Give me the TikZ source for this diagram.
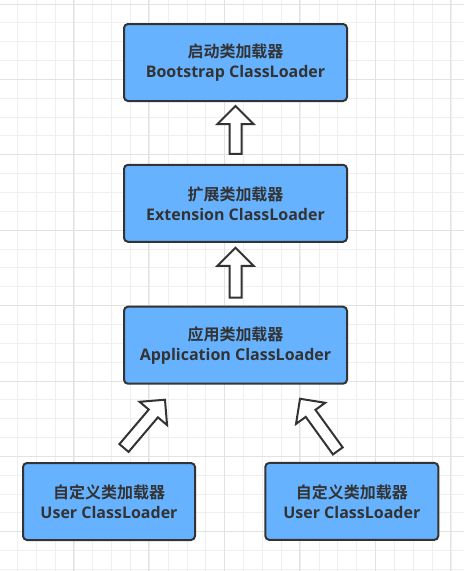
\documentclass[tikz,border=0pt]{standalone}
\usepackage{fontspec}
\setmainfont{Open Sans}[BoldFont={Open Sans Bold}]
\newfontfamily\cjk{Noto Sans CJK SC}[BoldFont={Noto Sans CJK SC Bold}]
\usetikzlibrary{calc,positioning}

\definecolor{boxblue}{HTML}{66B2FF}
\definecolor{darkline}{HTML}{333333}
\definecolor{minorgrid}{HTML}{EFEFEF}
\definecolor{majorgrid}{HTML}{E2E2E2}

\tikzset{
	loader/.style={draw=darkline, fill=boxblue, line width=2pt, rounded corners=4pt,
		minimum height=77pt, inner sep=0pt, align=center, text=darkline,
		font=\bfseries\fontsize{16}{20}\selectfont},
	hollow/.style={draw=darkline, fill=white, line width=2pt, line join=miter}
}

% hollow block arrow from #1 to #2
\newcommand{\hollowarrow}[2]{%
	\draw[hollow] let \p1=(#1), \p2=(#2), \n1={atan2(\y2-\y1,\x2-\x1)}, \n2={veclen(\x2-\x1,\y2-\y1)} in
	[shift={(\p1)}, rotate=\n1] (0,-6) -- (\n2-18,-6) -- (\n2-18,-18) -- (\n2,0) -- (\n2-18,18) -- (\n2-18,6) -- (0,6) -- cycle;
}

\begin{document}
\begin{tikzpicture}[x=1pt,y=1pt]
	\fill[white] (0,0) rectangle (464,-571);
	\useasboundingbox (0,0) rectangle (464,-571);

	% background grid
	\foreach \k in {0,...,23}{
		\pgfmathsetmacro{\gx}{17.45+\k*18.85}
		\draw[minorgrid, line width=1pt] (\gx,0) -- (\gx,-571);
	}
	\foreach \k in {0,...,30}{
		\pgfmathsetmacro{\gy}{-4-\k*18.85}
		\draw[minorgrid, line width=1pt] (0,\gy) -- (464,\gy);
	}
	\foreach \gx in {-1.95,73.45,148.85,224.25,299.65,375.05,450.45}
		\draw[majorgrid, line width=1pt] (\gx,0) -- (\gx,-571);
	\foreach \gy in {-4,-79.4,-154.8,-230.2,-305.6,-381,-456.4,-531.8}
		\draw[majorgrid, line width=1pt] (0,\gy) -- (464,\gy);

	\node[loader, minimum width=223pt] (boot) at (235.5,-62.5) {{\cjk 启动类加载器}\\Bootstrap ClassLoader};
	\node[loader, minimum width=223pt] (ext) at (235.5,-203.3) {{\cjk 扩展类加载器}\\Extension ClassLoader};
	\node[loader, minimum width=223pt] (app) at (235.5,-345.2) {{\cjk 应用类加载器}\\Application ClassLoader};
	\node[loader, minimum width=172pt] (user1) at (109,-501.5) {{\cjk 自定义类加载器}\\User ClassLoader};
	\node[loader, minimum width=173pt] (user2) at (351.8,-501.4) {{\cjk 自定义类加载器}\\User ClassLoader};

	\hollowarrow{$(ext.north)+(0,10)$}{$(boot.south)+(0,-4)$}
	\hollowarrow{$(app.north)+(0,8)$}{$(ext.south)+(0,-5)$}
	\hollowarrow{$(user1.north)+(15,14)$}{$(app.south west)+(42,-15)$}
	\hollowarrow{$(user2.north)+(-14,11)$}{$(app.south east)+(-48,-14)$}
\end{tikzpicture}
\end{document}
